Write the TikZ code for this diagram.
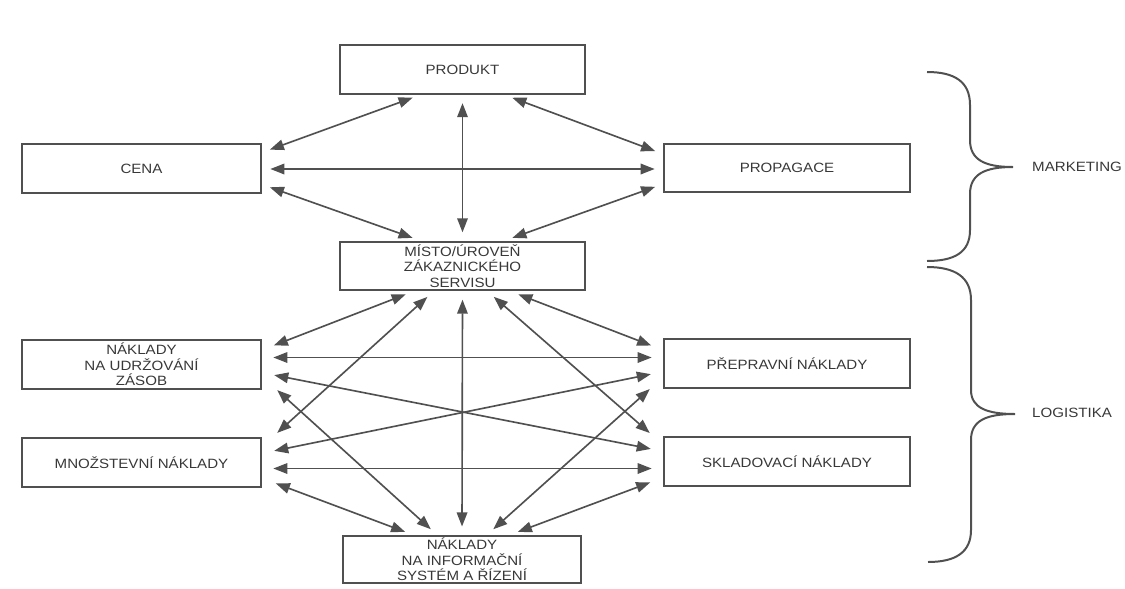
\documentclass[tikz,border=0pt]{standalone}
\usepackage{fontspec}
\setmainfont[FakeStretch=1.12]{Liberation Sans}
\usetikzlibrary{arrows.meta, calc}
\definecolor{linegray}{HTML}{505050}
\definecolor{textgray}{HTML}{383838}

\begin{document}
\begin{tikzpicture}[
        x                  = 0.03cm,
        y                  = -0.03cm,
        every node/.style  = {font=\fontsize{11.5}{13.2}\selectfont, text=textgray},
        box/.style         = {draw=linegray, line width=1.7pt, minimum width=7.35cm,
                              minimum height=1.46cm, inner sep=0pt, align=center},
        link/.style        = {draw=linegray, line width=1.4pt,
                              {Triangle[length=12pt, width=9pt]}-{Triangle[length=12pt, width=9pt]},
                              shorten <=0.25cm, shorten >=0.25cm},
        brace/.style       = {draw=linegray, line width=1.7pt},
    ]
    \useasboundingbox (0,0) rectangle (1125,588);

    % marketing mix
    \node[box] (prod) at (462.5,69.5) {PRODUKT};
    \node[box, minimum width=7.17cm] (cena) at (141.5,168.5) {CENA};
    \node[box, minimum width=7.38cm] (prop) at (787,168) {PROPAGACE};
    \node[box] (misto) at (462.5,266) {MÍSTO/ÚROVEŇ\\ZÁKAZNICKÉHO\\SERVISU};

    % logistic costs
    \node[box, minimum width=7.17cm] (zasoby) at (141.5,364.5) {NÁKLADY\\NA UDRŽOVÁNÍ\\ZÁSOB};
    \node[box, minimum width=7.17cm] (mnoz) at (141.5,462.5) {MNOŽSTEVNÍ NÁKLADY};
    \node[box, minimum width=7.38cm] (preprava) at (787,363.5) {PŘEPRAVNÍ NÁKLADY};
    \node[box, minimum width=7.38cm] (sklad) at (787,461.5) {SKLADOVACÍ NÁKLADY};
    \node[box, minimum width=7.14cm, minimum height=1.42cm] (info) at (462,559.5) {NÁKLADY\\NA INFORMAČNÍ\\SYSTÉM A ŘÍZENÍ};

    % links of the upper part
    \draw[link] ($(cena.east)+(0,-16)$) -- ($(prod.south)+(-42,0)$);
    \draw[link] ($(cena.east)+(0,0.5)$) -- ($(prop.west)+(0,1)$);
    \draw[link] ($(cena.east)+(0,16)$) -- ($(misto.north)+(-42,0)$);
    \draw[link] (prod.south) -- (misto.north);
    \draw[link] ($(prop.west)+(0,-14)$) -- ($(prod.south)+(42,0)$);
    \draw[link] ($(prop.west)+(0,16)$) -- ($(misto.north)+(42,0)$);

    % links of the lower part
    \draw[link] ($(misto.south)+(-49,0)$) -- ($(zasoby.east)+(4,-16)$);
    \draw[link] ($(misto.south)+(-29,0)$) -- ($(mnoz.east)+(9,-24)$);
    \draw[link] (misto.south) -- (info.north);
    \draw[link] ($(misto.south)+(25,0)$) -- ($(sklad.west)+(-7,-23)$);
    \draw[link] ($(misto.south)+(48,0)$) -- ($(preprava.west)+(-4,-15)$);
    \draw[link] ($(zasoby.east)+(3,-7)$) -- ($(preprava.west)+(-3,-6)$);
    \draw[link] ($(zasoby.east)+(4,9)$) -- ($(sklad.west)+(-4,-11)$);
    \draw[link] ($(zasoby.east)+(9,20)$) -- ($(info.north)+(-25,0)$);
    \draw[link] ($(mnoz.east)+(4,-10)$) -- ($(preprava.west)+(-4,9)$);
    \draw[link] ($(mnoz.east)+(3,6)$) -- ($(sklad.west)+(-3,7)$);
    \draw[link] ($(mnoz.east)+(6,18)$) -- ($(info.north)+(-49,0)$);
    \draw[link] ($(preprava.west)+(-7,20)$) -- ($(info.north)+(25,0)$);
    \draw[link] ($(sklad.west)+(-5,18)$) -- ($(info.north)+(48,0)$);

    % braces
    \draw[brace] (927,72) .. controls (955,72) and (970,82) .. (970,105) -- (970,140)
        .. controls (970,160) and (985,167) .. (1013,167)
        .. controls (985,167) and (970,174) .. (970,194) -- (970,230)
        .. controls (970,252) and (955,261) .. (927,261);
    \draw[brace] (927,267) .. controls (955,267) and (971,277) .. (971,300) -- (971,390)
        .. controls (971,408) and (987,414) .. (1015,414)
        .. controls (987,414) and (971,420) .. (971,440) -- (971,530)
        .. controls (971,552) and (956,562) .. (928,562);
    \node[anchor=west, inner sep=0pt] (mkt) at (1032,167) {MARKETING};
    \node[anchor=west, inner sep=0pt] (log) at (1032,413) {LOGISTIKA};
\end{tikzpicture}
\end{document}
